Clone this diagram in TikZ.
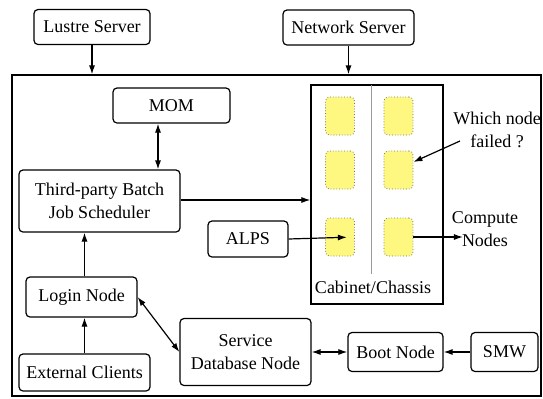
\documentclass[tikz,border=0pt]{standalone}
\usepackage{fontspec}
\setmainfont{Liberation Serif}
\usetikzlibrary{arrows.meta}
\tikzset{
  box/.style={draw, rounded corners=2pt, align=center, inner sep=0pt, line width=0.6pt},
  cell/.style={draw=black!55, densely dotted, fill=yellow!50, rounded corners=2pt,
    minimum width=14.5pt, minimum height=19pt, inner sep=0pt},
  arr/.style={-{Latex[length=4.5pt,width=3pt]}, line width=0.6pt},
  biarr/.style={{Latex[length=4.5pt,width=3pt]}-{Latex[length=4.5pt,width=3pt]}, line width=0.6pt}
}
\begin{document}
\begin{tikzpicture}[x=0.5pt,y=-0.5pt,font=\fontsize{9}{11.5}\selectfont]
\useasboundingbox (0,0) rectangle (543,398);
% outer system and cabinet
\node[draw, line width=0.6pt, minimum width=264.5pt, minimum height=160.5pt, inner sep=0pt] (sys) at (276.5,235.5) {};
\node[draw, line width=0.6pt, minimum width=66pt, minimum height=109.5pt, inner sep=0pt] (cab) at (377,194.5) {};
\draw[black!40] (371,85)--(371,274);
\node (cablbl) at (373,287) {Cabinet/Chassis};
% compute cells
\foreach \c/\x in {1/340,2/398.5}{
\foreach \r/\y in {1/116,2/170,3/237}{
\node[cell] (sq\c\r) at (\x,\y) {};};};
% boxes
\node[box, minimum width=58pt, minimum height=17.5pt] (lustre) at (92,27) {Lustre Server};
\node[box, minimum width=65.5pt, minimum height=17.5pt] (net) at (348.5,27.5) {Network Server};
\node[box, minimum width=58.5pt, minimum height=17.5pt] (mom) at (171.5,105.5) {MOM};
\node[box, minimum width=80.5pt, minimum height=31pt] (sched) at (99.5,201) {Third-party Batch\\Job Scheduler};
\node[box, minimum width=40pt, minimum height=18pt] (alps) at (248,239) {ALPS};
\node[box, minimum width=55.5pt, minimum height=20pt] (login) at (81.5,297) {Login Node};
\node[box, minimum width=65.5pt, minimum height=18.5pt] (ext) at (84.5,372.5) {External Clients};
\node[box, minimum width=65.5pt, minimum height=33.5pt] (serv) at (245.5,352) {Service\\Database Node};
\node[box, minimum width=47.5pt, minimum height=19.5pt] (boot) at (395.5,352) {Boot Node};
\node[box, minimum width=33.5pt, minimum height=19.5pt] (smw) at (504.5,352) {SMW};
% labels
\node[align=center] (fail) at (497,130) {Which node\\failed ?};
\node[align=center] (comp) at (485,229) {Compute\\Nodes};
\coordinate (failtip) at (460,141);
\coordinate (comptip) at (463,237);
% connectors
\draw[arr] (lustre.south) -- (lustre.south |- sys.north);
\draw[arr] (net.south) -- (net.south |- sys.north);
\draw[biarr] ([xshift=-6.75pt]mom.south) -- ([xshift=-6.75pt]mom.south |- sched.north);
\draw[arr] ([yshift=0.5pt]sched.east) -- ([yshift=0.5pt]sched.east -| cab.west);
\draw[arr, shorten >=4pt] (alps.east) -- (sq13.east);
\draw[arr] (sq23.east) -- (comptip);
\draw[arr] (failtip) -- ([yshift=4pt]sq22.east);
\draw[arr] (ext.north) -- (ext.north |- login.south);
\draw[arr] (ext.north |- login.north) -- (ext.north |- sched.south);
\draw[biarr] (login.east) -- (serv.west);
\draw[biarr] (serv.east) -- (boot.west);
\draw[arr] (smw.west) -- (boot.east);
\end{tikzpicture}
\end{document}
